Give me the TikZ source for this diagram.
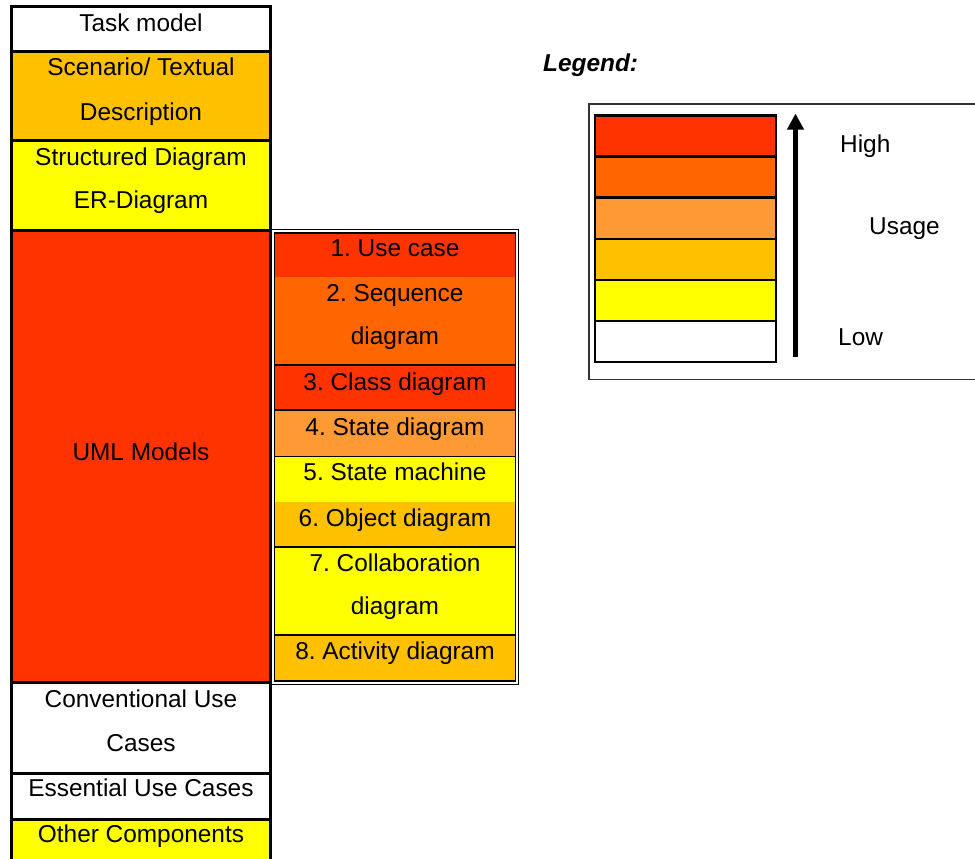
\documentclass[tikz,border=0pt]{standalone}
\usepackage{fontspec}
\setmainfont{Liberation Sans}
\usetikzlibrary{arrows.meta}
\frenchspacing
\definecolor{cRed}{HTML}{FF3300}
\definecolor{cOrange}{HTML}{FF6600}
\definecolor{cLight}{HTML}{FF9933}
\definecolor{cAmber}{HTML}{FFC000}
\definecolor{cYellow}{HTML}{FFFF00}
\tikzset{
  cellbox/.style={rectangle, inner sep=0pt, outer sep=0pt, anchor=north west, draw=none},
  txt/.style={inner sep=0pt, anchor=base, font=\fontsize{24.4}{29}\selectfont},
  txtw/.style={inner sep=0pt, anchor=base west, font=\fontsize{24.4}{29}\selectfont},
  thickline/.style={line width=3pt, black},
  thinline/.style={line width=1.3pt, black},
  swline/.style={line width=2.6pt, black},
}
\begin{document}
\begin{tikzpicture}[x=1pt,y=-1pt]
\useasboundingbox (0,0) rectangle (975,859);
\clip (0,0) rectangle (975,859);
\fill[white] (0,0) rectangle (975,859);

% ---------- left table ----------
\node[cellbox, fill=white,   minimum width=259pt, minimum height=45pt]  (tm)  at (11.5,7) {};
\node[cellbox, fill=cAmber,  minimum width=259pt, minimum height=88pt]  (sc)  at (11.5,52) {};
\node[cellbox, fill=cYellow, minimum width=259pt, minimum height=90pt]  (sd)  at (11.5,140) {};
\node[cellbox, fill=cRed,    minimum width=259pt, minimum height=452pt] (uml) at (11.5,230) {};
\node[cellbox, fill=white,   minimum width=259pt, minimum height=91pt]  (cuc) at (11.5,682) {};
\node[cellbox, fill=white,   minimum width=259pt, minimum height=46pt]  (euc) at (11.5,773) {};
\node[cellbox, fill=cYellow, minimum width=259pt, minimum height=60pt]  (oc)  at (11.5,819) {};

\draw[thickline] (tm.north west) -- (tm.north east);
\foreach \c in {tm,sc,sd,uml,cuc,euc}{
  \draw[thickline] (\c.south west) -- (\c.south east);
}
\draw[thickline] ([yshift=1.5pt]tm.north west) -- (oc.south west);
\draw[thickline] ([yshift=1.5pt]tm.north east) -- (oc.south east);

\node[txt] (tmT)  at (141,32)  {Task model};
\node[txt] (scT1) at (141,76)  {Scenario/ Textual};
\node[txt] (scT2) at (141,120) {Description};
\node[txt] (sdT1) at (141,165) {Structured Diagram};
\node[txt] (sdT2) at (141,208) {ER-Diagram};
\node[txt] (umlT) at (141,460) {UML Models};
\node[txt] (cuT1) at (141,707) {Conventional Use};
\node[txt] (cuT2) at (141,751) {Cases};
\node[txt] (euT)  at (141,796) {Essential Use Cases};
\node[txt] (ocT)  at (141,842) {Other Components};

% ---------- inner table ----------
\fill[white] (270.5,228.5) rectangle (519,685);
\node[cellbox, fill=cRed,    minimum width=241pt, minimum height=44pt] (r1) at (274.5,233) {};
\node[cellbox, fill=cOrange, minimum width=241pt, minimum height=88pt] (r2) at (274.5,277) {};
\node[cellbox, fill=cRed,    minimum width=241pt, minimum height=45pt] (r3) at (274.5,365) {};
\node[cellbox, fill=cLight,  minimum width=241pt, minimum height=46.5pt] (r4) at (274.5,410) {};
\node[cellbox, fill=cYellow, minimum width=241pt, minimum height=45.5pt] (r5) at (274.5,456.5) {};
\node[cellbox, fill=cAmber,  minimum width=241pt, minimum height=45pt] (r6) at (274.5,502) {};
\node[cellbox, fill=cYellow, minimum width=241pt, minimum height=88pt] (r7) at (274.5,547) {};
\node[cellbox, fill=cAmber,  minimum width=241pt, minimum height=46pt] (r8) at (274.5,635) {};

\foreach \c in {r2,r3,r4,r6,r7}{
  \draw[thinline] (\c.south west) -- (\c.south east);
}
\draw[thinline] (r1.north west) rectangle (r8.south east);
\draw[thinline] ([shift={(-3.2pt,3.5pt)}]r1.north west) rectangle ([shift={(3.2pt,-3.2pt)}]r8.south east);

\node[txt] (r1T)  at (395,256) {1. Use case};
\node[txt] (r2T1) at (395,301) {2. Sequence};
\node[txt] (r2T2) at (395,344) {diagram};
\node[txt] (r3T)  at (395,390) {3. Class diagram};
\node[txt] (r4T)  at (395,435) {4. State diagram};
\node[txt] (r5T)  at (395,480) {5. State machine};
\node[txt] (r6T)  at (395,526) {6. Object diagram};
\node[txt] (r7T1) at (395,571) {7. Collaboration};
\node[txt] (r7T2) at (395,614) {diagram};
\node[txt] (r8T)  at (395,659) {8. Activity diagram};

% ---------- legend ----------
\node[inner sep=0pt, anchor=base west, font=\fontsize{24.4}{29}\selectfont\bfseries\itshape] (legT) at (543,72) {Legend:};
\draw[line width=1.5pt, black!80] (589,104) rectangle (995,379.5);

\node[cellbox, fill=cRed,    minimum width=181pt, minimum height=41.1pt] (s1) at (595,115.5) {};
\node[cellbox, fill=cOrange, minimum width=181pt, minimum height=41.1pt] (s2) at (595,156.6) {};
\node[cellbox, fill=cLight,  minimum width=181pt, minimum height=41.1pt] (s3) at (595,197.7) {};
\node[cellbox, fill=cAmber,  minimum width=181pt, minimum height=41.1pt] (s4) at (595,238.8) {};
\node[cellbox, fill=cYellow, minimum width=181pt, minimum height=41.1pt] (s5) at (595,279.9) {};
\node[cellbox, fill=white,   minimum width=181pt, minimum height=41.1pt] (s6) at (595,321) {};
\foreach \c in {s1,s2,s3,s4,s5}{
  \draw[swline] (\c.south west) -- (\c.south east);
}
\draw[swline] (s1.north west) rectangle (s6.south east);

\coordinate (arLow)  at (795.5,357);
\coordinate (arHigh) at (795.5,113.5);
\draw[line width=4.5pt, -{Triangle[width=16pt,length=16pt]}] (arLow) -- (arHigh);

\node[txtw] (hiT) at (840,152) {High};
\node[txtw] (usT) at (869,234) {Usage};
\node[txtw] (loT) at (838,345) {Low};
\end{tikzpicture}
\end{document}
